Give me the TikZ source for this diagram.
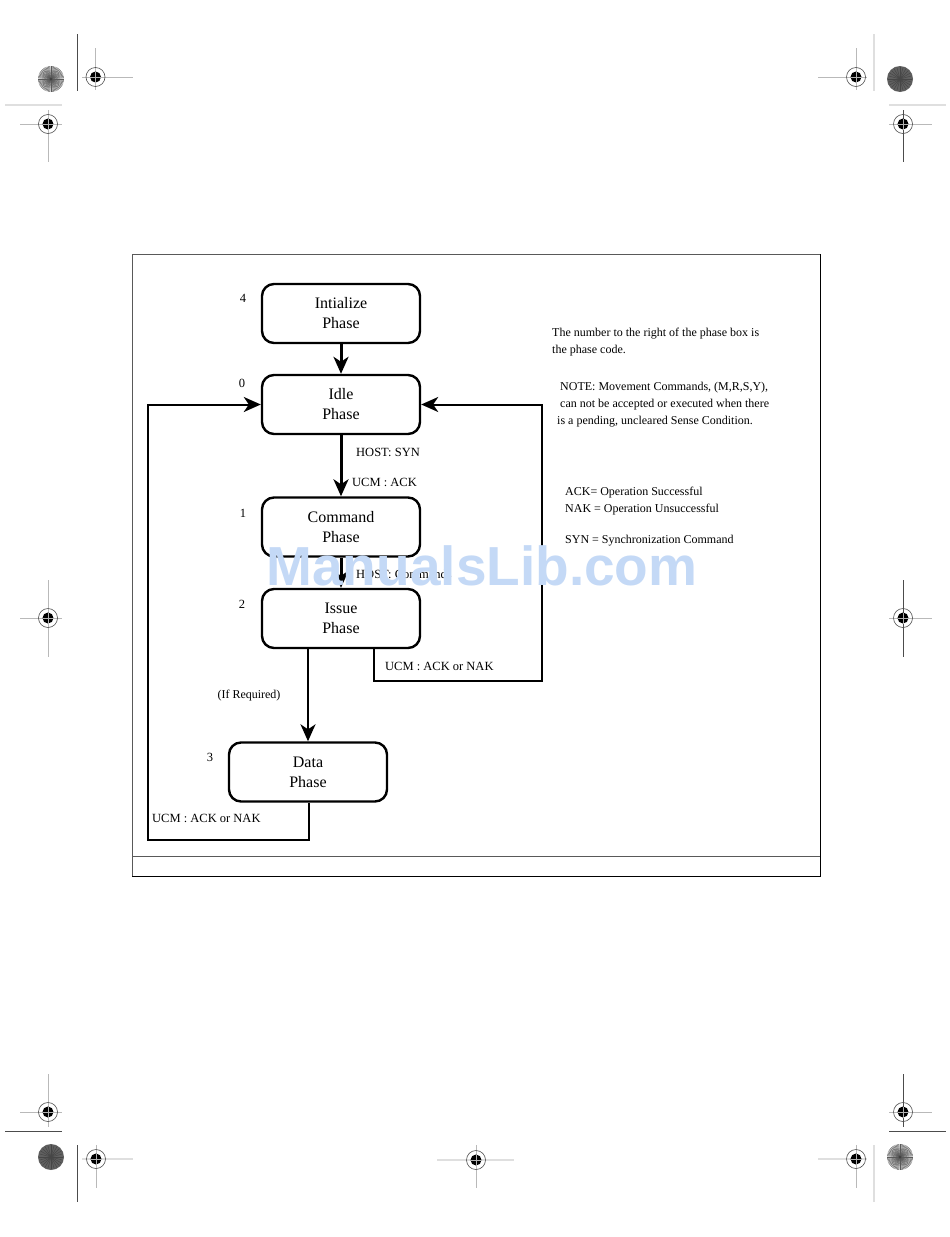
\documentclass[tikz,border=0pt]{standalone}
\usepackage{fontspec}
\setmainfont{Liberation Serif}
\newfontfamily\wmfont{Liberation Sans}
\usetikzlibrary{arrows.meta}
\definecolor{wmblue}{RGB}{196,217,246}
\newcommand{\rmtarget}[2]{%
  \draw[gray!60!black, line width=0.6pt] (#1,#2) circle (9.5);
  \fill[black] (#1,#2) circle (5.5);
  \draw[gray!60, line width=0.6pt] (#1-5.5,#2) -- (#1+5.5,#2) (#1,#2-5.5) -- (#1,#2+5.5);}
\newcommand{\rmburst}[2]{%
  \fill[gray!35] (#1,#2) circle (13);
  \foreach \a in {0,6,...,354} \draw[gray!70!black, line width=0.4pt] (#1,#2) -- ++(\a:13);
  \fill[gray!50!black] (#1,#2) circle (1.5);}
\newcommand{\rmdark}[2]{%
  \fill[gray!75!black] (#1,#2) circle (13);
  \foreach \a in {0,15,...,345} \draw[gray!55!black, line width=0.5pt] (#1,#2) -- ++(\a:12);}
\begin{document}
\begin{tikzpicture}[x=1pt,y=-1pt,
  phase/.style={draw, line width=2.4pt, rounded corners=12pt, minimum width=158pt,
    minimum height=59pt, inner sep=0pt, align=center,
    font=\fontsize{16}{20}\selectfont},
  code/.style={font=\fontsize{12.5}{14}\selectfont, inner sep=0pt},
  lbl/.style={font=\fontsize{12.5}{14}\selectfont, inner sep=0pt, anchor=west},
  note/.style={font=\fontsize{12}{17}\selectfont, inner sep=0pt, anchor=west, align=left},
  mainarrow/.style={line width=3pt, -{Stealth[length=17pt,width=15pt,inset=5pt]}},
  retarrow/.style={line width=2pt, -{Stealth[length=17pt,width=15pt,inset=5pt]}},
  trim/.style={gray!60!black, line width=0.7pt},
  ltrim/.style={gray!25, line width=1.2pt},
  cross/.style={gray!55, line width=0.9pt}]
\useasboundingbox (0,0) rectangle (950,1237);
\fill[white] (0,0) rectangle (950,1237);

% ---------- registration / trim marks ----------
% top left
\rmburst{51}{79}
\draw[trim] (77,34) -- (77,91);
\draw[cross] (82,77) -- (133,77) (95.5,48) -- (95.5,90);
\rmtarget{95.5}{77}
\draw[ltrim] (5,105) -- (62,105);
\draw[cross] (20,124) -- (62,124) (48,110) -- (48,162);
\rmtarget{48}{124}
% top right
\rmdark{900}{79}
\draw[ltrim] (874,34) -- (874,91);
\draw[cross] (818,77) -- (867,77) (856,48) -- (856,90);
\rmtarget{856}{77}
\draw[ltrim] (889,105) -- (946,105);
\draw[cross] (889,124) -- (932,124);
\draw[trim] (903,110) -- (903,162);
\rmtarget{903}{124}
% middle left / right
\draw[cross] (20,618) -- (62,618) (48,580) -- (48,657);
\rmtarget{48}{618}
\draw[cross] (889,618) -- (932,618);
\draw[trim] (903,580) -- (903,657);
\rmtarget{903}{618}
% bottom left
\draw[cross] (20,1112) -- (62,1112) (48,1074) -- (48,1127);
\rmtarget{48}{1112}
\draw[trim] (5,1131) -- (62,1131);
\rmdark{51}{1157}
\draw[trim] (77,1145) -- (77,1202);
\draw[ltrim] (82,1159) -- (133,1159);
\draw[cross] (96,1145) -- (96,1188);
\rmtarget{96}{1159}
% bottom centre
\draw[ltrim] (437,1160) -- (514,1160);
\draw[cross] (476,1145) -- (476,1188);
\rmtarget{476}{1160}
% bottom right
\draw[trim] (903,1074) -- (903,1127);
\draw[cross] (889,1112) -- (932,1112);
\rmtarget{903}{1112}
\draw[trim] (889,1131) -- (946,1131);
\rmburst{900}{1157}
\draw[ltrim] (874,1145) -- (874,1202);
\draw[ltrim] (818,1159) -- (867,1159);
\draw[cross] (856,1145) -- (856,1188);
\rmtarget{856}{1159}

% ---------- frame ----------
\draw[gray!70!black, line width=1pt] (132,876) -- (132,254) -- (820,254);
\draw[black, line width=1pt] (820,254) -- (820,876) -- (132,876);
\draw[gray!70!black, line width=1pt] (132,856) -- (820,856);

% ---------- phase boxes ----------
\node[phase] (init)  at (341,313.5) {Intialize\\Phase};
\node[phase] (idle)  at (341,404.5) {Idle\\Phase};
\node[phase] (cmd)   at (341,527)   {Command\\Phase};
\node[phase] (issue) at (341,618.5) {Issue\\Phase};
\node[phase] (data)  at (308,772)   {Data\\Phase};

% phase codes
\node[code] (c4) at (243,298) {4};
\node[code] (c0) at (242,383) {0};
\node[code] (c1) at (243,513) {1};
\node[code] (c2) at (242,604) {2};
\node[code] (c3) at (210,757) {3};

% ---------- connectors ----------
\draw[mainarrow] (init) -- (idle);
\draw[mainarrow] (idle) -- (cmd);
\draw[mainarrow] (cmd) -- (issue);
\draw[retarrow] (issue.south -| data.north) -- (data.north);
\coordinate (rcorner) at (542,681);
\draw[retarrow] ([xshift=33pt]issue.south) |- (rcorner) |- (idle.east);
\coordinate (lcorner) at (148,840);
\draw[retarrow] ([xshift=1pt]data.south) |- (lcorner) |- (idle.west);

% connector labels
\node[lbl] (l1) at (356,452) {HOST: SYN};
\node[lbl] (l2) at (352,482) {UCM : ACK};
\node[lbl] (l3) at (356,574) {HOST: Commands};
\node[lbl] (l4) at (385,666) {UCM : ACK or NAK};
\node[font=\fontsize{12}{14}\selectfont, inner sep=0pt] (l5) at (249,696) {(If Required)};
\node[lbl] (l6) at (152,818) {UCM : ACK or NAK};

% ---------- notes ----------
\node[note] (n1) at (552,342) {The number to the right of the phase box is\\the phase code.};
\node[note] (n2) at (557,405) {\ NOTE: Movement Commands, (M,R,S,Y),\\\ can not be accepted or executed when there\\is a pending, uncleared Sense Condition.};
\node[note] (n3) at (565,501.5) {ACK= Operation Successful\\NAK = Operation Unsuccessful};
\node[note] (n4) at (565,541) {SYN = Synchronization Command};

% ---------- watermark ----------
\node[font=\wmfont\bfseries\fontsize{55}{60}\selectfont, text=wmblue, inner sep=0pt, anchor=base] (wm) at (482,585) {ManualsLib.com};
\end{tikzpicture}
\end{document}
